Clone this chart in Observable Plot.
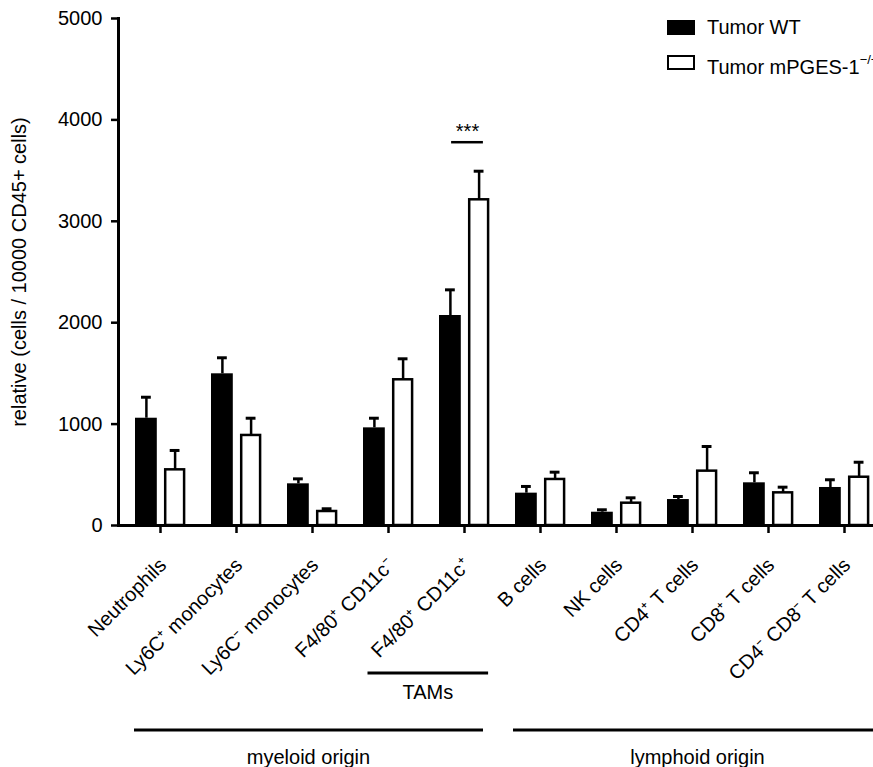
<!DOCTYPE html>
<html>
<head>
<meta charset="utf-8">
<script src="https://cdn.jsdelivr.net/npm/d3@7"></script>
<script src="https://cdn.jsdelivr.net/npm/@observablehq/plot@0.6"></script>
<style>
  html, body { margin: 0; padding: 0; background: #fff; overflow: hidden; }
  #wrap { position: relative; width: 873px; height: 767px; overflow: hidden; font-family: "Liberation Sans", Arial, sans-serif; }
  #wrap svg { position: absolute; left: 0; top: 0; max-width: none !important; width: 890px !important; height: 767px !important; }
  .legend { position: absolute; left: 667px; top: 18px; font-size: 20px; color: #000; white-space: nowrap; }
  .legend .row { position: relative; height: 35px; }
  .legend .sw { position: absolute; left: 0; top: 2px; width: 28px; height: 15px; box-sizing: border-box; }
  .legend .lab { position: absolute; left: 40px; top: -2px; line-height: 22px; }
  .legend sup { font-size: 13px; position: relative; top: -2px; }
</style>
</head>
<body>
<div id="wrap"></div>
<script>
// ---------------- data ----------------
const categories = ["Neutrophils", "Ly6C⁺ monocytes", "Ly6C⁻ monocytes", "F4/80⁺ CD11c⁻", "F4/80⁺ CD11c⁺",
                    "B cells", "NK cells", "CD4⁺ T cells", "CD8⁺ T cells", "CD4⁻ CD8⁻ T cells"];
const seriesNames = ["Tumor WT", "Tumor mPGES-1⁻/⁻"];
const wtMean  = [1058, 1496, 411,  963, 2071, 319, 131, 256, 421, 375];
const wtUpper = [1265, 1654, 460, 1058, 2324, 385, 155, 286, 520, 451];
const koMean  = [ 549,  888, 138, 1437, 3212, 454, 220, 536, 322, 476];
const koUpper = [ 740, 1058, 165, 1644, 3494, 526, 273, 779, 378, 624];
const yTicks = [0, 1000, 2000, 3000, 4000, 5000];
const yTitle = "relative (cells / 10000 CD45+ cells)";
const sigCategory = ["F4/80⁺ CD11c⁺"];
const sigLabel = ["***"];
const sigLevel = [3780];
const groupLabels = ["TAMs", "myeloid origin", "lymphoid origin"];
const groupFrom = ["F4/80⁺ CD11c⁻", "Neutrophils", "B cells"];
const groupTo = ["F4/80⁺ CD11c⁺", "F4/80⁺ CD11c⁺", "CD4⁻ CD8⁻ T cells"];

// ---------------- tables ----------------
const wtRows = categories.map((c, i) => ({category: c, value: wtMean[i], upper: wtUpper[i]}));
const koRows = categories.map((c, i) => ({category: c, value: koMean[i], upper: koUpper[i]}));
const sigRows = sigCategory.map((c, i) => ({category: c, label: sigLabel[i], level: sigLevel[i]}));

const FONT = "Liberation Sans, Arial, sans-serif";
const BW = 76.2; // band width in px (layout)

const plot = Plot.plot({
  width: 890,
  height: 767,
  marginLeft: 118,
  marginRight: 7,
  marginTop: 18,
  marginBottom: 242,
  x: {domain: categories, range: [121, 883], padding: 0},
  y: {domain: [0, 5000]},
  style: {fontFamily: FONT, fontSize: "20px", color: "#000", background: "transparent", overflow: "visible"},
  marks: [
    // WT bars (black)
    Plot.barY(wtRows, {x: "category", y: "value", fill: "black", insetLeft: 13, insetRight: BW - 35}),
    // KO bars (white, outlined)
    Plot.barY(koRows, {x: "category", y: "value", fill: "white", stroke: "black", strokeWidth: 2.5,
                       insetLeft: 43.2, insetRight: BW - 62.3}),
    // error bars (upper only)
    Plot.ruleX(wtRows, {x: "category", y1: "value", y2: "upper", dx: -14.1, stroke: "black", strokeWidth: 2.5}),
    Plot.tickY(wtRows, {x: "category", y: "upper", insetLeft: 19, insetRight: BW - 29, stroke: "black", strokeWidth: 3}),
    Plot.ruleX(koRows, {x: "category", y1: "upper", y2: "value", dx: 14.6, stroke: "black", strokeWidth: 2.5}),
    Plot.tickY(koRows, {x: "category", y: "upper", insetLeft: 47.7, insetRight: BW - 57.7, stroke: "black", strokeWidth: 3}),
    // significance
    Plot.tickY(sigRows, {x: "category", y: "level", insetLeft: 25.1, insetRight: 19.1, stroke: "black", strokeWidth: 2.5}),
    Plot.text(sigRows, {x: "category", y: "level", text: "label", dx: 3, dy: -4, lineAnchor: "bottom", fontSize: 20}),
    // axes
    Plot.frame({anchor: "left", stroke: "black", strokeWidth: 3}),
    Plot.ruleY([0], {stroke: "black", strokeWidth: 3}),
    Plot.axisY({ticks: yTicks, tickSize: 7, tickPadding: 9, tickFormat: d => String(d), stroke: "black",
                strokeWidth: 2.5, fontSize: 20, label: null}),
    Plot.axisX({tickSize: 8, tickFormat: () => "", stroke: "black", strokeWidth: 2.5, label: null}),
    Plot.text(categories, {x: d => d, text: d => d, frameAnchor: "bottom", rotate: -45, textAnchor: "end",
                           lineAnchor: "bottom", dx: 7, dy: 41, fontSize: 20, ariaLabel: "x-labels"}),
    Plot.text([yTitle], {frameAnchor: "left", rotate: -90, dx: -99, textAnchor: "middle", lineAnchor: "middle", fontSize: 20})
  ]
});

document.getElementById("wrap").appendChild(plot);

// ---- superscripts in category labels ----
d3.select(plot).selectAll('g[aria-label="x-labels"] text').each(function () {
  const t = d3.select(this);
  const s = t.text();
  t.text(null);
  let shifted = false;
  for (const ch of s) {
    if (ch === "⁺" || ch === "⁻") {
      t.append("tspan").attr("dy", shifted ? 0 : -8).attr("font-size", 13).text(ch === "⁺" ? "+" : "−");
      shifted = true;
    } else {
      if (shifted) { t.append("tspan").attr("dy", 8).text(ch); shifted = false; }
      else t.append("tspan").text(ch);
    }
  }
});

// ---- group brackets under the axis (positions from the x scale) ----
const xs = plot.scale("x");
const bracketY = [673, 730, 730];
const textY = [699, 764, 764];
const insetL = [17.5, 12, 11];
const insetR = [13.9, 19, 0];
const svg = d3.select(plot);
groupLabels.forEach((lab, i) => {
  const x1 = xs.apply(groupFrom[i]) + insetL[i];
  const x2 = xs.apply(groupTo[i]) + xs.bandwidth - insetR[i];
  svg.append("line").attr("x1", x1).attr("x2", x2).attr("y1", bracketY[i]).attr("y2", bracketY[i])
     .attr("stroke", "black").attr("stroke-width", 3);
  svg.append("text").attr("x", (x1 + x2) / 2).attr("y", textY[i]).attr("text-anchor", "middle")
     .attr("font-size", 20).attr("font-family", FONT).attr("fill", "black").text(lab);
});

// ---- legend ----
const legend = d3.select("#wrap").append("div").attr("class", "legend");
seriesNames.forEach((name, i) => {
  const row = legend.append("div").attr("class", "row");
  row.append("div").attr("class", "sw")
     .style("background", i === 0 ? "black" : "white")
     .style("border", i === 0 ? "none" : "2.5px solid black");
  const lab = row.append("div").attr("class", "lab");
  const m = name.match(/^(.*?)([⁺⁻/]+)$/);
  if (m) {
    lab.append("span").text(m[1]);
    lab.append("sup").text(m[2].replace(/⁻/g, "−").replace(/⁺/g, "+"));
  } else lab.text(name);
});
</script>
</body>
</html>
